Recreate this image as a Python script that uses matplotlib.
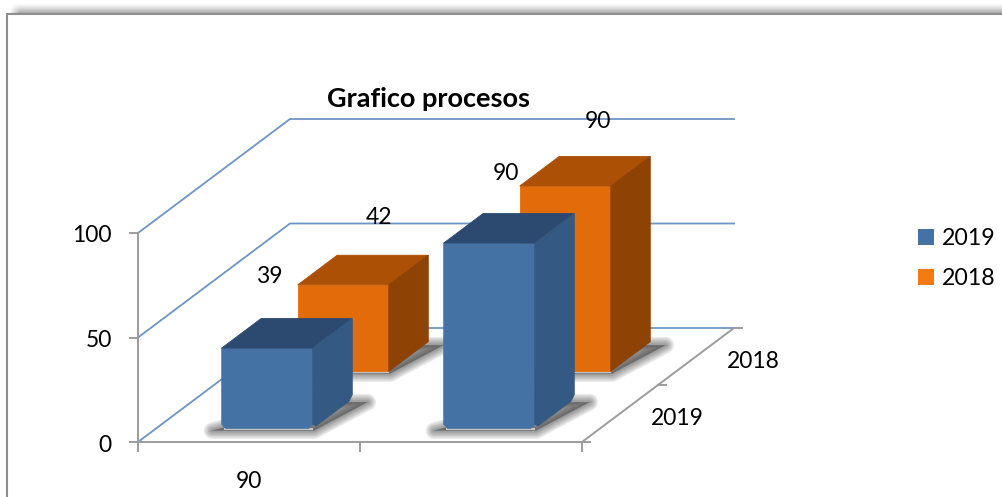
import numpy as np
import matplotlib
matplotlib.use('Agg')
import matplotlib.pyplot as plt
from matplotlib.patches import Polygon, Patch

plt.rcParams['font.family'] = ['Lato', 'DejaVu Sans']

# data
title = 'Grafico procesos'
categories = ['90', '']
series_names = ['2019', '2018']
values_2019 = [39, 90]
values_2018 = [42, 90]
y_ticks = [0, 50, 100]

# colours: front, top, side
blue = ['#4572a5', '#2c4a70', '#345983']
orange = ['#e36c0a', '#ac5005', '#8e4204']
grid_col = '#6d94c6'
axis_col = '#9c9c9c'
FS = 16.5

# oblique projection of the 3d box to figure pixels
X0, Y0 = 138, 442
X_UNIT, DX_DEPTH, DY_DEPTH, Y_UNIT = 222, 152, 114, 2.09
BAR_W, BAR_D = 0.41, 0.26
BAR_SCALE = 0.985  # bars sit a touch lower than the wall scale, perspective of the 3d chart


def project(x, d, v):
    return X0 + x * X_UNIT + d * DX_DEPTH, Y0 - d * DY_DEPTH - v * Y_UNIT


def chamfer(pts, idx, r=4):
    # cut the corners listed in idx so the bar foot looks rounded
    out = []
    n = len(pts)
    for i, p in enumerate(pts):
        p = np.array(p, dtype=float)
        if i not in idx:
            out.append(p)
            continue
        for q in (pts[i - 1], pts[(i + 1) % n]):
            q = np.array(q, dtype=float)
            out.append(p + (q - p) / np.linalg.norm(q - p) * r)
    return out


def draw_shadow(ax, x, d, z):
    x0, x1 = x - BAR_W / 2 - 0.03, x + BAR_W / 2 + 0.02
    d0, d1 = d - BAR_D / 2 - 0.02, d + BAR_D / 2 - 0.03
    pts = [project(x0, d0, 0), project(x1, d0, 0), project(x1 + 0.07, d1, 0), project(x0 + 0.3, d1, 0)]
    for lw in (12, 10, 8, 6, 4, 2.5):
        ax.add_patch(Polygon(pts, closed=True, fc='#3a3a3a', ec='#3a3a3a', lw=lw, alpha=0.1,
                             joinstyle='round', zorder=z))
    # light rim just below the front face
    ax.plot(*zip(project(x - BAR_W / 2 + 0.02, d0 + 0.015, 0), project(x + BAR_W / 2, d0 + 0.015, 0)),
            color='#c4c4c4', lw=1.5, zorder=z + 0.1)


def draw_bar(ax, x, d, v, cols, z, rounded):
    v = v * BAR_SCALE
    x0, x1 = x - BAR_W / 2, x + BAR_W / 2
    d0, d1 = d - BAR_D / 2, d + BAR_D / 2
    front = [project(x0, d0, v), project(x1, d0, v), project(x1, d0, 0), project(x0, d0, 0)]
    top = [project(x0, d0, v), project(x1, d0, v), project(x1, d1, v), project(x0, d1, v)]
    side = [project(x1, d0, v), project(x1, d1, v), project(x1, d1, 0), project(x1, d0, 0)]
    if rounded:
        front = chamfer(front, [2, 3])
        side = chamfer(side, [2, 3])
    for face, c in zip((front, top, side), cols):
        ax.add_patch(Polygon(face, closed=True, fc=c, ec=c, lw=0.6, zorder=z))


fig = plt.figure(figsize=(10.03, 4.97), dpi=100)
ax = fig.add_axes([0, 0, 1, 1])

# shadow band above the frame, it is part of the picture
band = np.zeros((40, 300, 4))
ramp_y = np.linspace(0, 1, 40) ** 1.3
ramp_x = np.clip(np.linspace(0, 100, 300), 0, 1)
band[..., 3] = np.outer(ramp_y, ramp_x) * 0.38
ax.imshow(band, extent=(8, 1003, 14, 3), aspect='auto', interpolation='bilinear', zorder=0)
ax.plot([7, 7, 1003], [497, 14, 14], color='#8f8f8f', lw=1.5, solid_joinstyle='miter', zorder=1)

# walls
for t in y_ticks:
    ax.plot(*zip(project(0, 0, t), project(0, 1, t), project(2, 1, t)), color=grid_col, lw=1.3, zorder=2)

# axes lines
ax.plot(*zip(project(0, 0, y_ticks[0]), project(0, 0, y_ticks[-1])), color=axis_col, lw=1.4, zorder=3)
ax.plot(*zip(project(0, 0, 0), project(2, 0, 0), project(2, 1, 0)), color=axis_col, lw=1.4, zorder=3)
for t in y_ticks:
    x, y = project(0, 0, t)
    ax.plot([x - 8, x], [y, y], color=axis_col, lw=1.4, zorder=3)
    ax.text(x - 26, y + 3, str(t), ha='right', va='center', fontsize=FS, color='black')
for i in range(len(categories) + 1):
    x, y = project(i, 0, 0)
    ax.plot([x, x], [y, y + 9], color=axis_col, lw=1.4, zorder=3)
for d in (0, 0.5, 1):
    x, y = project(2, d, 0)
    ax.plot([x, x + 8], [y, y], color=axis_col, lw=1.4, zorder=3)

# category and depth labels
for i, c in enumerate(categories):
    x, y = project(i + 0.5, 0, 0)
    ax.text(x, y + 39, c, ha='center', va='center', fontsize=FS)
for d, name in zip((0.25, 0.75), series_names):
    x, y = project(2, d, 0)
    ax.text(x + 57, y + 5, name, ha='center', va='center', fontsize=FS)

# bars, back row first
for j, (vals, cols, d) in enumerate(((values_2018, orange, 0.75), (values_2019, blue, 0.25))):
    for i, v in enumerate(vals):
        z = 4 + j * 2 + i * 0.5
        draw_shadow(ax, i + 0.5, d, z)
        draw_bar(ax, i + 0.5, d, v, cols, z + 0.2, cols is blue)

# data labels, offset from the back corner of each bar top
label_offsets_2019 = [(8, -41), (23, -37)]
label_offsets_2018 = [(42, -36), (39, -32)]
for vals, d, offs in ((values_2019, 0.25, label_offsets_2019), (values_2018, 0.75, label_offsets_2018)):
    for i, v in enumerate(vals):
        x, y = project(i + 0.5 - BAR_W / 2, d + BAR_D / 2, v)
        ax.text(x + offs[i][0], y + offs[i][1], str(v), ha='center', va='center', fontsize=FS, zorder=10)

ax.text(429, 99, title, ha='center', va='center', fontsize=19.5, fontweight='bold', zorder=10)

handles = [Patch(fc=blue[0], ec='none'), Patch(fc='#f47a12', ec='none')]
ax.legend(handles, series_names, loc='upper left', bbox_to_anchor=(918, 228), bbox_transform=ax.transData,
          frameon=False, fontsize=16.7, handlelength=0.7, handleheight=0.7, handletextpad=0.33,
          labelspacing=0.82, borderpad=0, borderaxespad=0)

ax.set_xlim(0, 1003)
ax.set_ylim(497, 0)
ax.axis('off')

plt.savefig('out.png', dpi=100)
